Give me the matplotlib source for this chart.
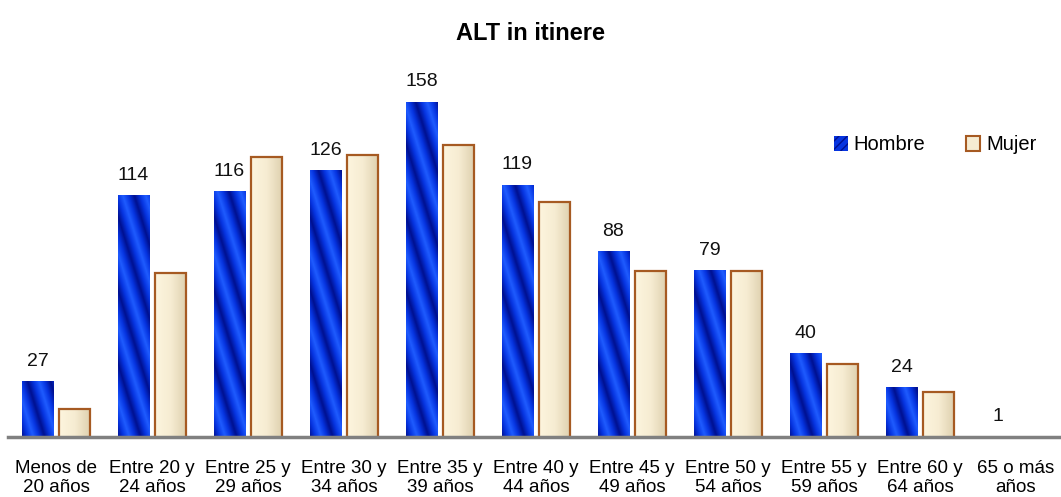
import numpy as np
import matplotlib.pyplot as plt
from matplotlib.patches import Rectangle
from matplotlib.colors import LinearSegmentedColormap

plt.rcParams['font.family'] = ['Liberation Sans', 'DejaVu Sans']

categorias = ['Menos de\n20 años', 'Entre 20 y\n24 años', 'Entre 25 y\n29 años',
              'Entre 30 y\n34 años', 'Entre 35 y\n39 años', 'Entre 40 y\n44 años',
              'Entre 45 y\n49 años', 'Entre 50 y\n54 años', 'Entre 55 y\n59 años',
              'Entre 60 y\n64 años', '65 o más\naños']
hombre = [27, 114, 116, 126, 158, 119, 88, 79, 40, 24, 1]
mujer = [14, 78, 132, 133, 138, 111, 79, 79, 35, 22, 0]

W, H = 1061, 497
fig = plt.figure(figsize=(W / 100, H / 100), dpi=100)
ax = fig.add_axes([8 / W, 1 - 439 / H, 1056 / W, (439 - 60) / H])

px_per_unit = 337 / 158
ymax = (439 - 60) / px_per_unit
ax.set_xlim(-0.5, len(categorias) - 0.5)
ax.set_ylim(0, ymax)

# eje inferior (antes de las etiquetas: set_position reinicia los ticks)
for s in ['left', 'right', 'top']:
    ax.spines[s].set_visible(False)
ax.spines['bottom'].set_position(('data', 0.8))
ax.spines['bottom'].set_color('#808080')
ax.spines['bottom'].set_linewidth(2.5)
ax.spines['bottom'].set_zorder(5)

bw = 0.323
off = 0.193
x = np.arange(len(categorias))

blue_cmap = LinearSegmentedColormap.from_list('azul', ['#001090', '#0634e0', '#1f5cff', '#0634e0', '#001090'])
cream_cmap = LinearSegmentedColormap.from_list('crema', ['#fdf5de', '#f6ecd2', '#ded0ae'])

# Hombre: barras azules con franjas inclinadas
for xi, v in zip(x, hombre):
    if v <= 0:
        continue
    x0 = xi - off - bw / 2
    rect = Rectangle((x0, 0), bw, v, facecolor='none', edgecolor='none')
    ax.add_patch(rect)
    hp = max(int(v * px_per_unit), 2)
    wp = 31
    yy, xx = np.mgrid[0:hp, 0:wp]
    t = ((xx + 0.3 * yy) / 22.0) % 1.0
    ax.imshow(t, cmap=blue_cmap, extent=(x0, x0 + bw, 0, v), origin='lower',
              aspect='auto', clip_path=rect, zorder=1, interpolation='bilinear')

# Mujer: barras crema con degradado horizontal
for xi, v in zip(x, mujer):
    if v <= 0:
        continue
    x0 = xi + off - bw / 2
    grad = np.linspace(0, 1, 64).reshape(1, -1)
    ax.imshow(grad, cmap=cream_cmap, extent=(x0, x0 + bw, 0, v), origin='lower',
              aspect='auto', zorder=1)
    ax.add_patch(Rectangle((x0, 0), bw, v, facecolor='none', edgecolor='#a65a22',
                           linewidth=1.6, zorder=2))

# etiquetas de Hombre
for xi, v in zip(x, hombre):
    ax.text(xi - off, v + 5.5, str(v), ha='center', va='bottom', fontsize=14, color='#111111')

ax.set_xticks(x)
ax.set_xticklabels(categorias, fontsize=13.5, linespacing=1.2)
ax.tick_params(axis='x', length=0, pad=16)
ax.set_yticks([])

fig.text(0.5, 1 - 33 / H, 'ALT in itinere', ha='center', va='center',
         fontsize=17, fontweight='bold')

# leyenda
h1 = Rectangle((0, 0), 1, 1, facecolor='#0634e0', edgecolor='#001090', linewidth=0, hatch='////')
h2 = Rectangle((0, 0), 1, 1, facecolor='#f6ecd2', edgecolor='#a65a22', linewidth=1.5)
fig.legend([h1, h2], ['Hombre', 'Mujer'], loc='center', bbox_to_anchor=(935 / W, 1 - 145 / H),
           ncol=2, frameon=False, fontsize=14.5, handlelength=0.7, handleheight=0.7,
           handletextpad=0.3, columnspacing=2.0)

fig.savefig('out.png', dpi=100)
